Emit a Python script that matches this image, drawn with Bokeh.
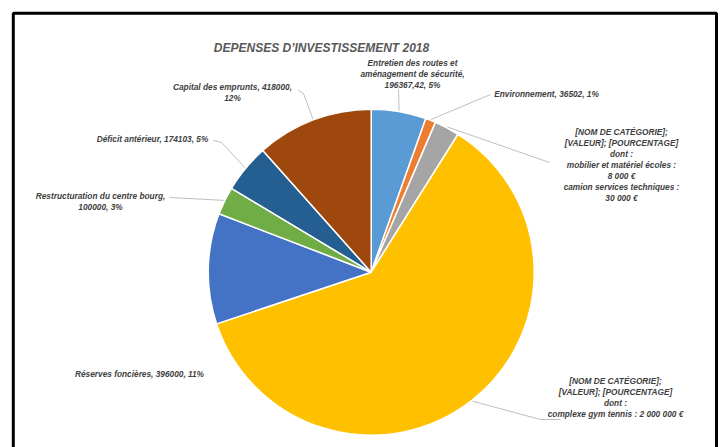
import math
from bokeh.plotting import figure
from bokeh.models import Range1d
from bokeh.core.properties import value
from bokeh.embed import file_html
from bokeh.resources import INLINE

# ---- data ----
categories = [
    "Entretien des routes et aménagement de sécurité",
    "Environnement",
    "Mobilier et matériel / camion",
    "Complexe gym tennis",
    "Réserves foncières",
    "Restructuration du centre bourg",
    "Déficit antérieur",
    "Capital des emprunts",
]
values = [196367.42, 36502, 90000, 2200000, 396000, 100000, 174103, 418000]
colors = ["#5B9BD5", "#ED7D31", "#A5A5A5", "#FFC000", "#4472C4", "#70AD47", "#255E91", "#9E480E"]
label_texts = [
    "Entretien des routes et\naménagement de sécurité,\n196367,42, 5%",
    "Environnement, 36502, 1%",
    "[NOM DE CATÉGORIE];\n[VALEUR]; [POURCENTAGE]\ndont :\nmobilier et matériel écoles :\n8 000 €\ncamion services techniques :\n30 000 €",
    "[NOM DE CATÉGORIE];\n[VALEUR]; [POURCENTAGE]\ndont :\ncomplexe gym tennis : 2 000 000 €",
    "Réserves foncières, 396000, 11%",
    "Restructuration du centre bourg,\n100000, 3%",
    "Déficit antérieur, 174103, 5%",
    "Capital des emprunts, 418000,\n12%",
]
title = "DEPENSES D’INVESTISSEMENT 2018"

# ---- layout (screen pixel coordinates) ----
W, H = 722, 447
def Y(py):
    return H - py

cx, cy, R = 370.7, 271.7, 163
label_pos = [(412, 73), (546, 93), (621, 164), (615, 397), (139, 373), (100, 201), (152, 138), (232, 92)]
leader_pts = [[(398, 89)], [(490, 94)], [(549, 162)], [(540, 419), (560, 419)], None,
              [(169, 197)], [(221, 142), (213, 140)], [(303, 93), (298, 90)]]

p = figure(width=W, height=H, output_backend="svg", toolbar_location=None,
           x_range=Range1d(0, W), y_range=Range1d(0, H),
           min_border=0)
p.axis.visible = False
p.grid.visible = False
p.outline_line_color = None
p.background_fill_color = "white"
p.border_fill_color = "white"

total = sum(values)
starts, ends, mids = [], [], []
cum = 0.0
for v in values:
    a0 = math.pi / 2 - cum / total * 2 * math.pi
    cum += v
    a1 = math.pi / 2 - cum / total * 2 * math.pi
    starts.append(a0)
    ends.append(a1)
    mids.append((a0 + a1) / 2)

p.wedge(x=[cx] * len(values), y=[Y(cy)] * len(values), radius=R,
        start_angle=starts, end_angle=ends, direction="clock",
        fill_color=colors, line_color="white", line_width=1.5)

# leader lines
for m, pts in zip(mids, leader_pts):
    if not pts:
        continue
    sx = cx + (R + 1) * math.cos(m)
    sy = cy - (R + 1) * math.sin(m)
    xs = [sx] + [q[0] for q in pts]
    ys = [Y(sy)] + [Y(q[1]) for q in pts]
    p.line(xs, ys, line_color="#BFBFBF", line_width=1)

# labels
p.text(x=[q[0] for q in label_pos], y=[Y(q[1]) for q in label_pos], text=label_texts,
       text_font=value("Liberation Sans"), text_font_size="8.3px", text_font_style="bold italic",
       text_color="#404040", text_align="center", text_baseline="middle", text_line_height=1.1)

p.text(x=[321], y=[Y(47)], text=[title], text_font=value("Liberation Sans"),
       text_font_size="12px", text_font_style="bold italic", text_color="#595959",
       text_align="center", text_baseline="middle")

# frame
p.line([12.8, 12.8, 716, 716], [Y(447), Y(12.8), Y(12.8), Y(447)],
       line_color="black", line_width=3)

open("out.html", "w").write(file_html(p, INLINE))
